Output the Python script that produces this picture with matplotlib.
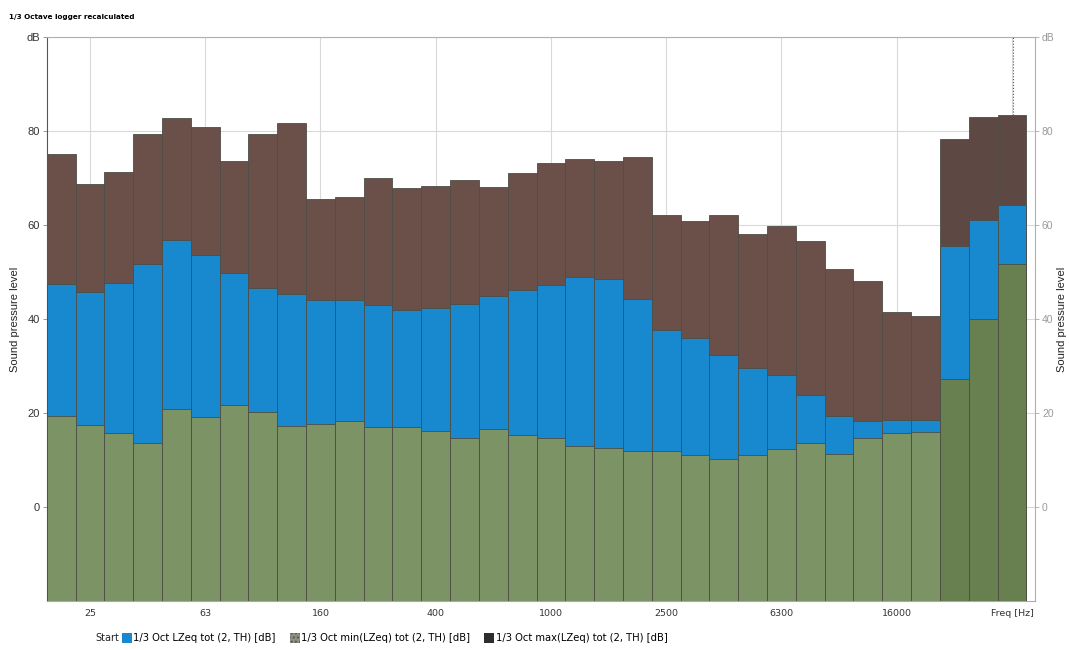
import matplotlib
matplotlib.use("Agg")
import matplotlib.pyplot as plt
from matplotlib.patches import Patch
import numpy as np

# ---- data ----
bands = ['20', '25', '31.5', '40', '50', '63', '80', '100', '125', '160', '200', '250',
         '315', '400', '500', '630', '800', '1000', '1250', '1600', '2000', '2500',
         '3150', '4000', '5000', '6300', '8000', '10000', '12500', '16000', '20000',
         'A', 'C', 'Z']
lmax = [75.1, 68.7, 71.2, 79.4, 82.8, 80.8, 73.7, 79.4, 81.7, 65.5, 65.9, 70.0,
        67.8, 68.4, 69.6, 68.0, 71.1, 73.3, 74.0, 73.7, 74.4, 62.2, 60.8, 62.2,
        58.1, 59.7, 56.7, 50.6, 48.0, 41.6, 40.7, 78.3, 82.9, 83.4]
leq = [47.4, 45.7, 47.6, 51.8, 56.9, 53.6, 49.8, 46.6, 45.3, 44.1, 44.0, 43.0,
       42.0, 42.3, 43.3, 45.0, 46.2, 47.3, 49.0, 48.5, 44.3, 37.7, 35.9, 32.3,
       29.5, 28.1, 23.8, 19.3, 18.4, 18.5, 18.5, 55.6, 61.1, 64.3]
lmin = [19.3, 17.4, 15.7, 13.6, 20.9, 19.1, 21.7, 20.3, 17.2, 17.7, 18.2, 17.1,
        17.0, 16.2, 14.7, 16.6, 15.3, 14.6, 13.0, 12.6, 12.0, 12.0, 11.0, 10.3,
        11.1, 12.3, 13.6, 11.3, 14.6, 15.7, 16.0, 27.2, 40.0, 51.7]
xtick_idx = [1, 5, 9, 13, 17, 21, 25, 29, 33]
xtick_labels = ['25', '63', '160', '400', '1000', '2500', '6300', '16000', 'Freq [Hz]']
ytick_vals = [0, 20, 40, 60, 80, 100]
ytick_labels = ['0', '20', '40', '60', '80', 'dB']

title = '1/3 Octave logger recalculated'
ylabel = 'Sound pressure level'
legend_labels = ['1/3 Oct LZeq tot (2, TH) [dB]',
                 '1/3 Oct min(LZeq) tot (2, TH) [dB]',
                 '1/3 Oct max(LZeq) tot (2, TH) [dB]']

# ---- style ----
c_max, c_max_tot = '#6a5049', '#5e4843'
c_leq = '#1889cf'
c_min, c_min_tot = '#7c9465', '#68804f'
edge = '#4d4d45'
ybottom, ytop = -20, 100

fig = plt.figure(figsize=(10.69, 6.5), dpi=100)
ax = fig.add_axes([0.0437, 0.0754, 0.9245, 0.8676])

x = np.arange(len(bands))
n_oct = 31
cmax = [c_max] * n_oct + [c_max_tot] * (len(bands) - n_oct)
cmin = [c_min] * n_oct + [c_min_tot] * (len(bands) - n_oct)

ax.bar(x, np.array(lmax) - ybottom, bottom=ybottom, width=1.0, color=cmax,
       edgecolor=edge, linewidth=0.6, zorder=2)
ax.bar(x, np.array(leq) - ybottom, bottom=ybottom, width=1.0, color=c_leq,
       edgecolor=edge, linewidth=0.6, zorder=3)
ax.bar(x, np.array(lmin) - ybottom, bottom=ybottom, width=1.0, color=cmin,
       edgecolor=edge, linewidth=0.6, zorder=4)

# cursor line on last bar
ax.vlines(x[-1] + 0.05, lmax[-1], ytop, colors='#555555', linestyles=':',
          linewidth=0.8, zorder=5)

ax.set_xlim(-0.5, 33.8)
ax.set_ylim(ybottom, ytop)
ax.set_axisbelow(True)
ax.grid(True, color='#d9d9d9', linewidth=0.8)
ax.set_xticks(xtick_idx)
ax.set_xticklabels(xtick_labels, fontsize=6.8, color='#333333', family='DejaVu Sans')
ax.tick_params(axis='x', length=0, pad=6)
ax.set_yticks(ytick_vals)
ax.set_yticklabels(ytick_labels, fontsize=8, color='#333333', family='Liberation Sans')
ax.tick_params(axis='y', length=3, width=0.6, color='#888888', pad=2)
for s in ['top', 'right']:
    ax.spines[s].set_color('#b0b0b0')
    ax.spines[s].set_linewidth(0.8)
ax.spines['left'].set_color('#555555')
ax.spines['bottom'].set_color('#aaaaaa')

ax2 = ax.twinx()
ax2.set_ylim(ybottom, ytop)
ax2.set_yticks(ytick_vals)
ax2.set_yticklabels(ytick_labels, fontsize=7.5, color='#9a9a9a', family='Liberation Sans')
ax2.tick_params(axis='y', length=3, width=0.6, color='#aaaaaa', pad=2)
for s in ax2.spines.values():
    s.set_visible(False)

fig.text(15 / 1069, 0.509, ylabel, rotation=90, fontsize=8, family='Liberation Sans',
         color='#222222', ha='center', va='center')
fig.text(1062 / 1069, 0.509, ylabel, rotation=90, fontsize=8, family='Liberation Sans',
         color='#222222', ha='center', va='center')

fig.text(0.008, 0.974, title, fontsize=5.2, fontweight='bold', va='center',
         family='DejaVu Sans')

# legend
fig.text(0.089, 0.018, 'Start', fontsize=7, va='center', family='DejaVu Sans',
         color='#222222')
handles = [Patch(facecolor=c_leq, edgecolor='none'),
           Patch(facecolor='#8c9282', edgecolor='#555555', hatch='....', linewidth=0),
           Patch(facecolor='#2e2e2e', edgecolor='none')]
fig.legend(handles, legend_labels, loc='center left', bbox_to_anchor=(0.114, 0.018),
           ncol=3, frameon=False, handlelength=1.0, handleheight=1.1,
           handletextpad=0.15, columnspacing=1.4, borderpad=0, borderaxespad=0,
           prop={'family': 'DejaVu Sans', 'size': 7.2})

fig.savefig('out.png', dpi=100)
